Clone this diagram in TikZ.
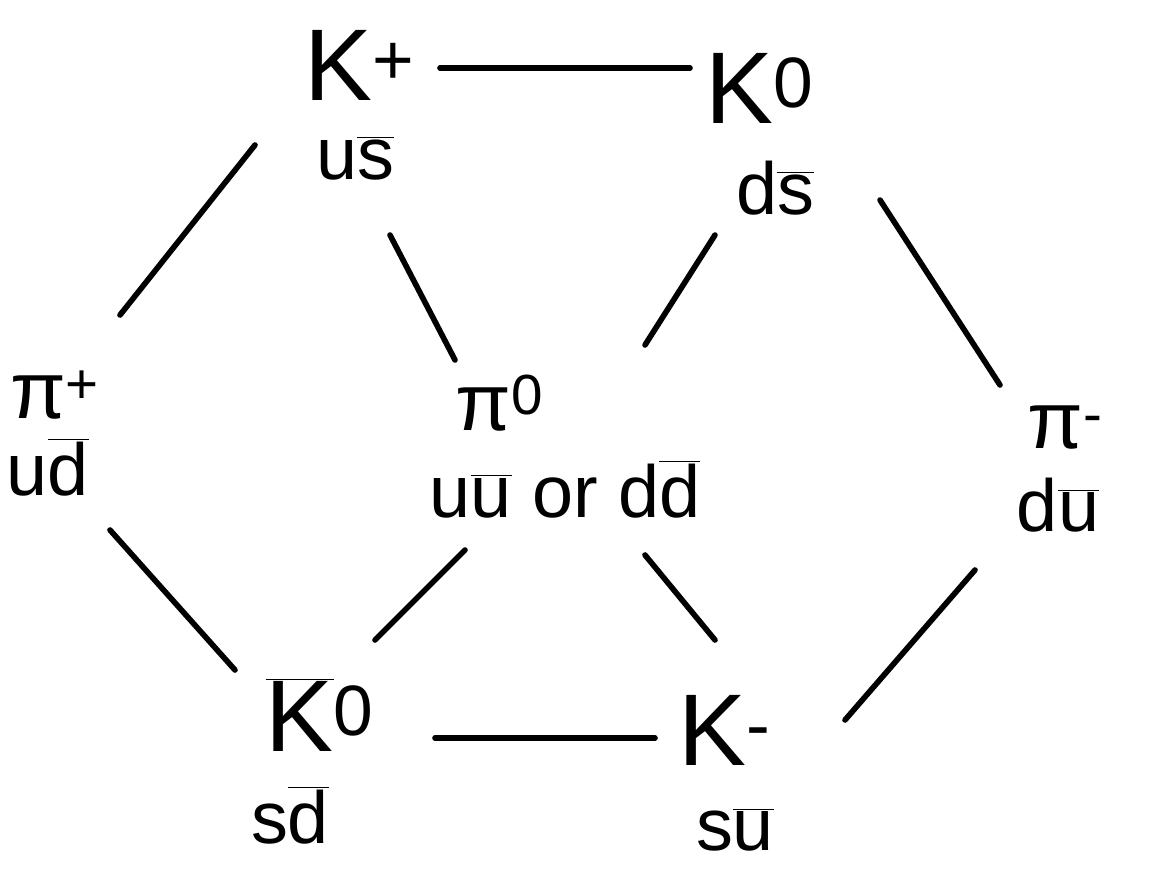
\documentclass[tikz,border=0pt]{standalone}
\usepackage{fontspec}
\setmainfont{Liberation Sans}
\usetikzlibrary{calc, positioning}

\newcommand{\qb}[1]{$\overline{\mbox{#1}}$}

\begin{document}
\begin{tikzpicture}[
    x=0.02cm, y=-0.02cm,
    meson/.style={inner sep=0pt, font=\fontsize{58}{60}\selectfont},
    pion/.style={inner sep=0pt, font=\fontsize{46}{48}\selectfont},
    quark/.style={inner sep=0pt, font=\fontsize{42}{44}\selectfont},
    edge/.style={line width=3.2pt, line cap=round}
]
\useasboundingbox (0,0) rectangle (1154,873);

% --- mesons ---
\node[meson] (kp)  at (360,65)  {K\textsuperscript{+}};
\node[quark] (kpq) at (355,158) {u\qb{s}};
\node[meson] (kz)  at (760,88)  {K\textsuperscript{0}};
\node[quark] (kzq) at (775,188) {d\qb{s}};

\node[pion]  (pip)  at (55,395)   {π\textsuperscript{+}};
\node[quark] (pipq) at (48,467)   {u\qb{d}};
\node[pion]  (piz)  at (500,403)  {π\textsuperscript{0}};
\node[quark] (pizq) at (565,489)  {u\qb{u} or d\qb{d}};
\node[pion]  (pim)  at (1065,428) {π\textsuperscript{-}};
\node[quark] (pimq) at (1058,505) {d\qb{u}};

\node[meson] (kb)  at (320,715) {\qb{K}\textsuperscript{0}};
\node[quark] (kbq) at (290,815) {s\qb{d}};
\node[meson] (km)  at (725,730) {K\textsuperscript{-}};
\node[quark] (kmq) at (735,830) {s\qb{u}};

% --- outer hexagon ---
\draw[edge] ($(kp)+(80,3)$)    -- ($(kz)+(-70,-20)$);
\draw[edge] ($(kp)+(-105,80)$) -- ($(pip)+(65,-80)$);
\draw[edge] ($(kz)+(120,112)$) -- ($(pim)+(-65,-43)$);
\draw[edge] ($(pip)+(55,135)$) -- ($(kb)+(-85,-45)$);
\draw[edge] ($(pim)+(-90,142)$) -- ($(km)+(120,-10)$);
\draw[edge] ($(kb)+(115,23)$)  -- ($(km)+(-70,8)$);

% --- spokes to the centre ---
\draw[edge] ($(kp)+(30,170)$)  -- ($(piz)+(-45,-43)$);
\draw[edge] ($(kz)+(-45,147)$) -- ($(piz)+(145,-58)$);
\draw[edge] ($(piz)+(-35,147)$) -- ($(kb)+(55,-75)$);
\draw[edge] ($(piz)+(145,152)$) -- ($(km)+(-10,-90)$);

\end{tikzpicture}
\end{document}
